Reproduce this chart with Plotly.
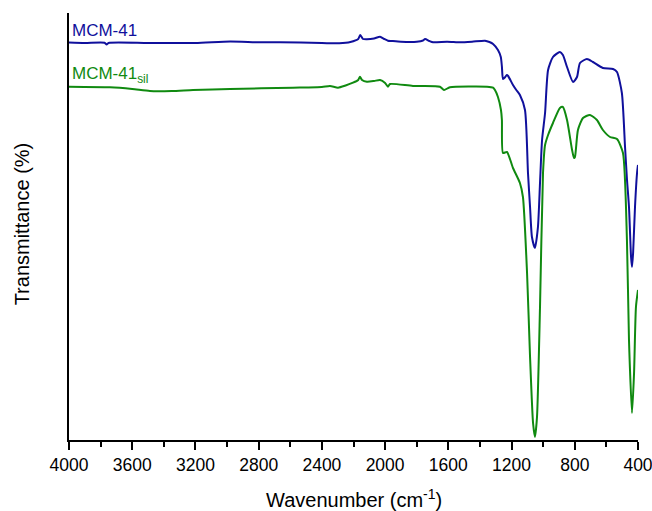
import plotly.graph_objects as go

# MCM-41 (blue) : wavenumber (cm-1) and transmittance (arbitrary units)
wn_mcm = [4000, 3900, 3775, 3762, 3750, 3500, 3200, 2980, 2800, 2665, 2400, 2330, 2290, 2220,
          2170, 2158, 2140, 2115, 2070, 2032, 2005, 1982, 1960, 1900, 1800, 1760, 1747, 1720,
          1696, 1608, 1526, 1450, 1368, 1340, 1317, 1286, 1268, 1261, 1254, 1240, 1230, 1222,
          1191, 1170, 1147, 1115, 1096, 1083, 1071, 1052, 1033, 1020, 1007, 988, 969, 938,
          894, 875, 849, 811, 786, 767, 723, 685, 622, 558, 533, 502, 482, 470, 457, 444,
          438, 431, 419, 406, 400]
t_mcm = [398.5, 398, 398.2, 396.5, 398, 398, 398, 399.5, 398.7, 398.7, 398, 397.7, 397.7, 399,
         402, 406, 402, 401.7, 402.5, 404.3, 402, 400.3, 400, 399.3, 399.3, 400.5, 402, 400,
         398.7, 399.3, 398.7, 399.3, 400.3, 399, 397, 391, 384, 374.3, 362, 364, 366, 365,
         356, 351, 346, 331, 268, 234, 204, 193, 214, 258, 301, 328, 371, 384,
         389, 386, 374, 359, 364, 378, 382, 379, 373, 372, 369, 348, 294, 262, 234, 184,
         174, 188, 234, 268, 276]

# MCM-41sil (green)
wn_sil = [4000, 3741, 3600, 3488, 3350, 3215, 2981, 2583, 2400, 2349, 2298, 2250, 2203, 2170,
          2159, 2146, 2115, 2070, 2032, 2000, 1982, 1969, 1824, 1653, 1627, 1590, 1355, 1317,
          1305, 1286, 1267, 1261, 1254, 1229, 1191, 1147, 1128, 1102, 1083, 1064, 1052, 1039,
          1020, 1001, 988, 969, 938, 894, 875, 849, 817, 805, 799, 780, 748, 704, 660, 622,
          577, 533, 495, 470, 457, 438, 425, 413, 400]
t_sil = [354.3, 353.7, 352, 350, 350, 351, 352, 353.3, 354, 355, 353.3, 355.5, 358.3, 361,
         364.3, 361, 359.3, 360, 361, 358, 354.3, 357, 355, 354.3, 351, 353.7, 354.3, 353.3,
         351, 344, 331, 321, 288, 289, 273, 258, 244, 168, 84, 18, 4, 24,
         134, 268, 296, 306, 318, 333, 334, 321, 291, 283, 284, 311, 323, 326, 321, 311,
         304, 302, 288, 201, 101, 28, 68, 134, 151]

x_ticks = [4000, 3600, 3200, 2800, 2400, 2000, 1600, 1200, 800, 400]

BLUE = "#10109c"
GREEN = "#108a10"
FONT = "Liberation Sans, Arial, sans-serif"

fig = go.Figure()
fig.add_trace(go.Scatter(x=wn_mcm, y=t_mcm, mode="lines", name="MCM-41",
                         line=dict(color=BLUE, width=2, shape="spline", smoothing=0.6)))
fig.add_trace(go.Scatter(x=wn_sil, y=t_sil, mode="lines", name="MCM-41sil",
                         line=dict(color=GREEN, width=2, shape="spline", smoothing=0.6)))

fig.update_layout(
    width=652, height=511,
    margin=dict(l=69, r=14, t=13, b=71, autoexpand=False),
    paper_bgcolor="white", plot_bgcolor="white",
    showlegend=False,
    font=dict(family=FONT, color="black"),
    xaxis=dict(range=[4000, 400], tickvals=x_ticks, ticktext=[str(v) for v in x_ticks],
               automargin=False, ticklabeloverflow="allow",
               showline=True, linecolor="black", linewidth=1.5, ticks="outside",
               ticklen=8, tickwidth=1.5, tickcolor="black", showgrid=False, zeroline=False,
               tickfont=dict(size=17.5, family=FONT),
               minor=dict(dtick=200, tick0=0, ticks="outside", ticklen=5, tickwidth=1.5,
                          tickcolor="black", showgrid=False)),
    yaxis=dict(range=[1, 428], showline=True, linecolor="black", linewidth=1.5,
               automargin=False,
               showticklabels=False, ticks="", showgrid=False, zeroline=False),
    annotations=[
        dict(text="MCM-41", xref="paper", yref="paper", x=0.002, y=0.960,
             xanchor="left", yanchor="middle", showarrow=False,
             font=dict(size=17, color=BLUE, family=FONT)),
        dict(text="MCM-41<sub>sil</sub>", xref="paper", yref="paper", x=0.002, y=0.855,
             xanchor="left", yanchor="middle", showarrow=False,
             font=dict(size=17, color=GREEN, family=FONT)),
        dict(text="Wavenumber (cm<sup>-1</sup>)", xref="paper", yref="paper", x=0.5, y=0,
             yshift=-58, xanchor="center", yanchor="middle", showarrow=False,
             font=dict(size=20, color="black", family=FONT)),
        dict(text="Transmittance (%)", xref="paper", yref="paper", x=0, xshift=-47,
             y=0.505, xanchor="center", yanchor="middle", textangle=-90, showarrow=False,
             font=dict(size=20, color="black", family=FONT)),
    ],
)

# remove the page's default body margin and scrollbars so the figure fills the window
fig.write_html("out.html",
               config={"displayModeBar": False},
               post_script="document.body.style.margin='0';"
                           "document.body.style.overflow='hidden';")
